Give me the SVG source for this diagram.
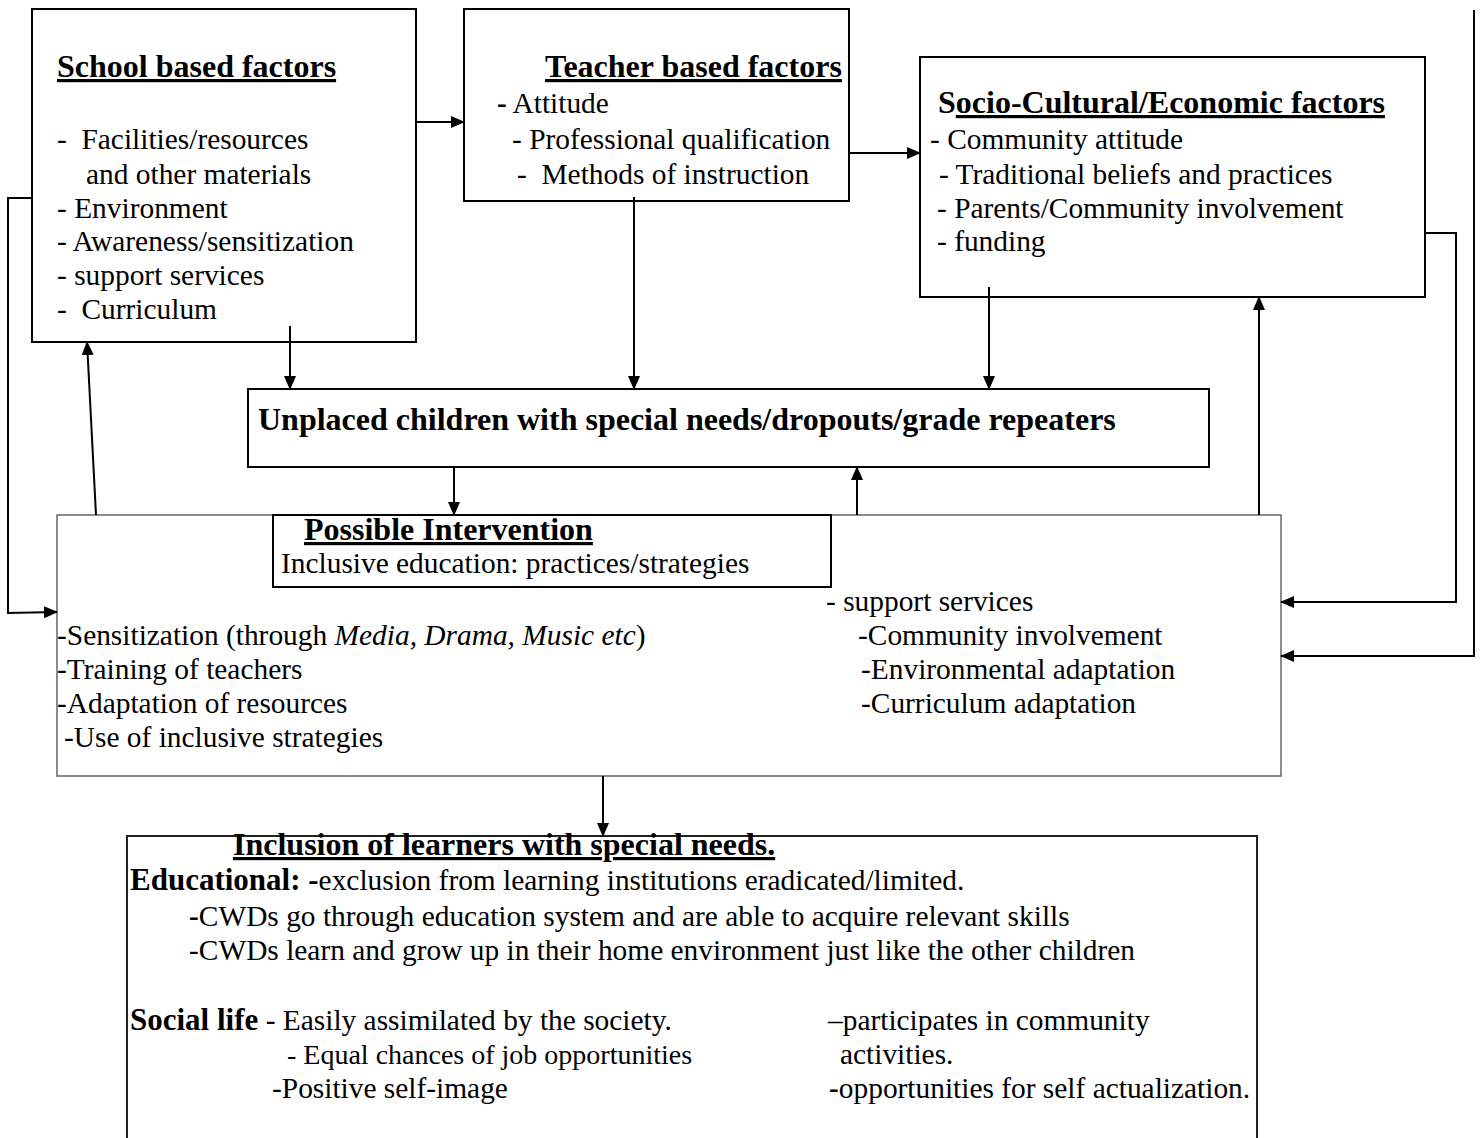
<svg xmlns="http://www.w3.org/2000/svg" width="1480" height="1138" viewBox="0 0 1480 1138">
<style>
text{font-family:"Liberation Serif","DejaVu Serif",serif;font-size:29.4px;fill:#000;white-space:pre}
.b{font-weight:bold}
.t{font-weight:bold;font-size:32px}
.u{text-decoration:underline}
.box{fill:#fff;stroke:#000;stroke-width:2}
.gbox{fill:#fff;stroke:#666;stroke-width:1.5}
.ln{fill:none;stroke:#000;stroke-width:2}
</style>
<defs>
<marker id="ah" markerWidth="14" markerHeight="12" refX="13" refY="6" orient="auto" markerUnits="userSpaceOnUse">
<path d="M0,0 L14,6 L0,12 Z" fill="#000"/>
</marker>
</defs>

<g id="school">
<rect class="box" x="32" y="9" width="384" height="333"/>
<text x="57" y="77" class="t u">School based factors</text>
<text x="57" y="149">-  Facilities/resources</text>
<text x="86" y="184">and other materials</text>
<text x="57" y="218">- Environment</text>
<text x="57" y="251">- Awareness/sensitization</text>
<text x="57" y="285">- support services</text>
<text x="57" y="319">-  Curriculum</text>
</g>

<g id="teacher">
<rect class="box" x="464" y="9" width="385" height="192"/>
<text x="545" y="77" class="t u">Teacher based factors</text>
<text x="497" y="113"><tspan class="b">-</tspan> Attitude</text>
<text x="512" y="149">- Professional qualification</text>
<text x="517" y="184">-  Methods of instruction</text>
</g>

<g id="socio">
<rect class="box" x="920" y="57" width="505" height="240"/>
<text x="938" y="113" class="t">S<tspan class="u">ocio-Cultural/Economic factors</tspan></text>
<text x="930" y="149">- Community attitude</text>
<text x="939" y="184">- Traditional beliefs and practices</text>
<text x="937" y="218">- Parents/Community involvement</text>
<text x="937" y="251">- funding</text>
</g>

<g id="unplaced">
<rect class="box" x="248" y="389" width="961" height="78"/>
<text x="258" y="430" class="t">Unplaced children with special needs/dropouts/grade repeaters</text>
</g>

<g id="intervention">
<rect class="gbox" x="57" y="515" width="1224" height="261"/>
<rect class="box" x="273" y="515" width="558" height="72"/>
<text x="304" y="540" class="t u">Possible Intervention</text>
<text x="281" y="573">Inclusive education: practices/strategies</text>
<text x="57" y="645">-Sensitization (through <tspan font-style="italic">Media, Drama, Music etc</tspan>)</text>
<text x="57" y="679">-Training of teachers</text>
<text x="57" y="713">-Adaptation of resources</text>
<text x="64" y="747">-Use of inclusive strategies</text>
<text x="826" y="611">- support services</text>
<text x="858" y="645">-Community involvement</text>
<text x="861" y="679">-Environmental adaptation</text>
<text x="861" y="713">-Curriculum adaptation</text>
</g>

<g id="inclusion">
<path class="ln" d="M127,1140 V836 H1257 V1140" style="stroke:#222"/>
<text x="233" y="855" class="t u">Inclusion of learners with special needs.</text>
<text x="130" y="890"><tspan class="b" font-size="31">Educational: -</tspan>exclusion from learning institutions eradicated/limited.</text>
<text x="189" y="926"><tspan class="b">-</tspan>CWDs go through education system and are able to acquire relevant skills</text>
<text x="189" y="960">-CWDs learn and grow up in their home environment just like the other children</text>
<text x="130" y="1030"><tspan class="b" font-size="31">Social life</tspan> - Easily assimilated by the society.</text>
<text x="287" y="1064" style="font-size:28px">- Equal chances of job opportunities</text>
<text x="272" y="1098">-Positive self-image</text>
<text x="828" y="1030">–participates in community</text>
<text x="840" y="1064">activities.</text>
<text x="829" y="1098"><tspan class="b">-</tspan>opportunities for self actualization.</text>
</g>

<g id="connectors">
<line class="ln" x1="416" y1="122" x2="464" y2="122" marker-end="url(#ah)"/>
<line class="ln" x1="849" y1="153" x2="920" y2="153" marker-end="url(#ah)"/>
<line class="ln" x1="290" y1="326" x2="290" y2="389" marker-end="url(#ah)"/>
<line class="ln" x1="634" y1="197" x2="634" y2="389" marker-end="url(#ah)"/>
<line class="ln" x1="989" y1="287" x2="989" y2="389" marker-end="url(#ah)"/>
<line class="ln" x1="1259" y1="515" x2="1259" y2="297" marker-end="url(#ah)"/>
<line class="ln" x1="454" y1="467" x2="454" y2="515" marker-end="url(#ah)"/>
<line class="ln" x1="857" y1="515" x2="857" y2="467" marker-end="url(#ah)"/>
<line class="ln" x1="96" y1="515" x2="87" y2="342" marker-end="url(#ah)"/>
<polyline class="ln" points="32,198 8,198 8,613 57,612" marker-end="url(#ah)"/>
<polyline class="ln" points="1425,233 1456,233 1456,602 1281,602" marker-end="url(#ah)"/>
<polyline class="ln" points="1474,10 1474,656 1281,656" marker-end="url(#ah)"/>
<line class="ln" x1="603" y1="776" x2="603" y2="836" marker-end="url(#ah)"/>
</g>
</svg>
